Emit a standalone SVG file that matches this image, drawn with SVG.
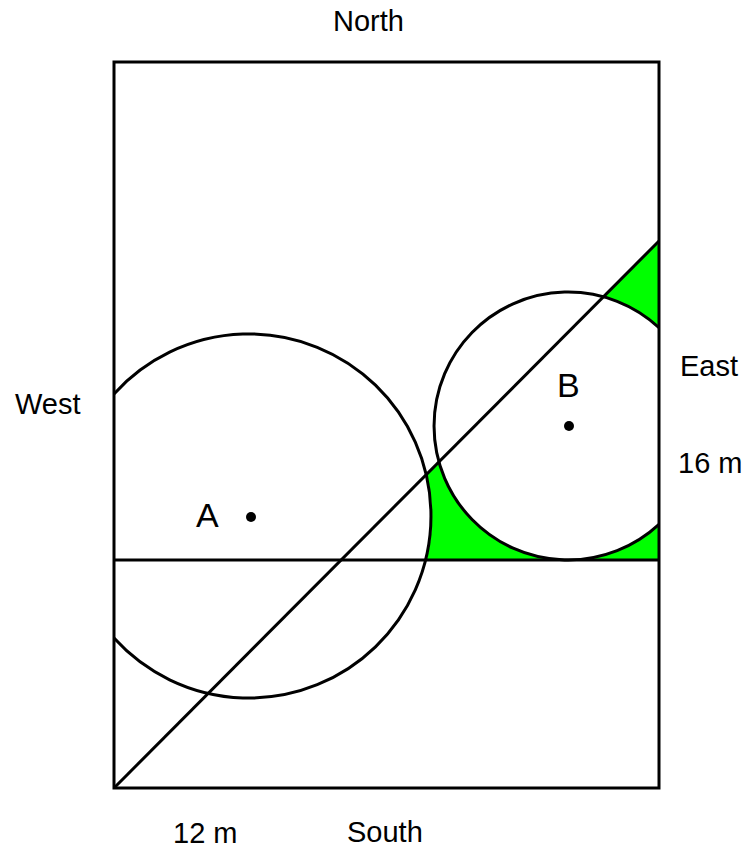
<svg xmlns="http://www.w3.org/2000/svg" width="751" height="850" viewBox="0 0 751 850">
<style>
.ln{fill:none;stroke:#000;stroke-width:3}
.gr{fill:#00ff00;stroke:none}
.lbl{font-family:"Liberation Sans",Arial,sans-serif;font-size:29px;fill:#000}
.big{font-family:"Liberation Sans",Arial,sans-serif;font-size:34px;fill:#000}
</style>
<rect width="751" height="850" fill="#fff"/>
<g id="green-regions">
<path class="gr" d="M603.5 296.8 L659 241 L659 327.6 A134 134 0 0 0 603.5 296.8 Z"/>
<path class="gr" d="M439 462.2 L427.1 474.2 A182 182 0 0 1 426.6 560 L568 560 A134 134 0 0 1 439 462.2 Z"/>
<path class="gr" d="M568 560 L659 560 L659 524.4 A134 134 0 0 1 568 560 Z"/>
</g>
<g id="field">
<rect class="ln" x="114" y="62" width="545" height="726"/>
</g>
<g id="connectors">
<line class="ln" x1="114" y1="560" x2="659" y2="560"/>
<line class="ln" x1="114" y1="788" x2="659" y2="241"/>
</g>
<g id="circle-A">
<path class="ln" d="M114 393.9 A182 182 0 1 1 114 638.1"/>
<circle cx="251" cy="517" r="5" fill="#000"/>
<text class="big" x="196" y="527">A</text>
</g>
<g id="circle-B">
<path class="ln" d="M659 327.6 A134 134 0 1 0 659 524.4"/>
<circle cx="569" cy="426" r="5" fill="#000"/>
<text class="big" x="557" y="397">B</text>
</g>
<g id="labels">
<text class="lbl" x="333" y="31">North</text>
<text class="lbl" x="347" y="842">South</text>
<text class="lbl" x="15" y="414">West</text>
<text class="lbl" x="680" y="376">East</text>
<text class="lbl" x="678" y="473">16 m</text>
<text class="lbl" x="173" y="843">12 m</text>
</g>
</svg>
